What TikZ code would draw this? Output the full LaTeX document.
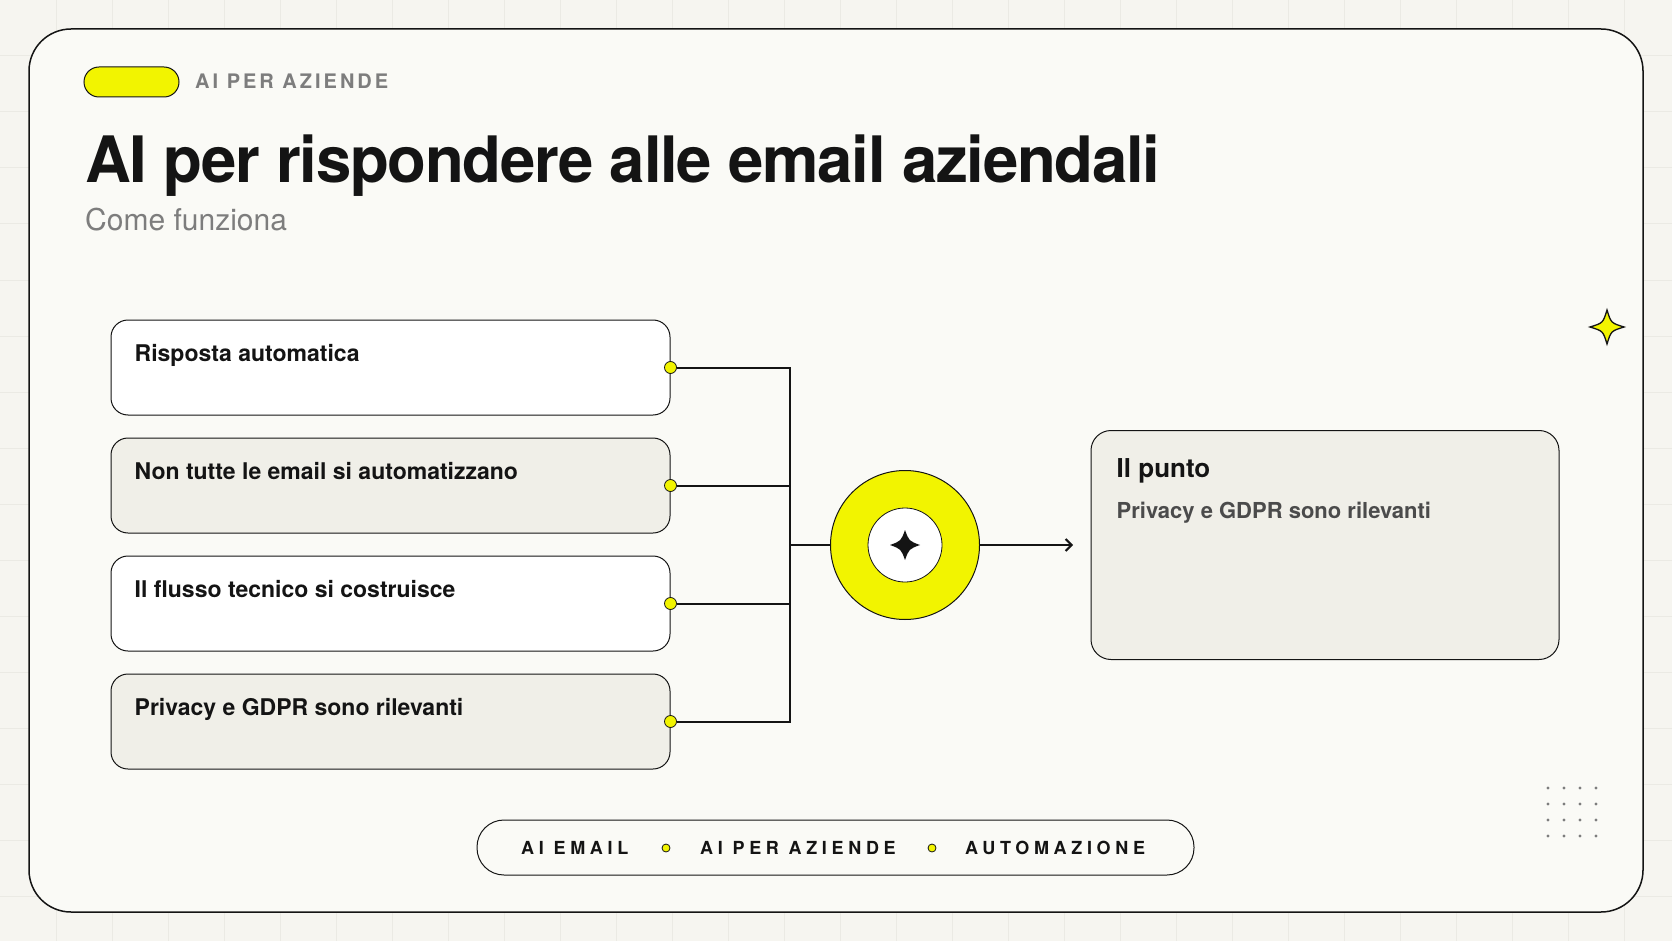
\documentclass[tikz,border=0pt]{standalone}
\usepackage{fontspec}
\usepackage{graphicx}
\setmainfont{TeX Gyre Heros}
\newfontfamily\titolofont{TeX Gyre Heros}[LetterSpace=-2]
\newfontfamily\spaziato{TeX Gyre Heros}[LetterSpace=15]
\newfontfamily\largo{TeX Gyre Heros}[LetterSpace=26]
\usepackage{tikz}
\usetikzlibrary{arrows.meta,calc,positioning}
\definecolor{sfondo}{RGB}{246,245,240}
\definecolor{griglia}{RGB}{235,234,228}
\definecolor{carta}{RGB}{250,250,246}
\definecolor{giallo}{RGB}{242,244,0}
\definecolor{beige}{RGB}{240,239,232}
\definecolor{nero}{RGB}{20,20,20}
\definecolor{grigio}{RGB}{125,125,125}
\definecolor{grigioScuro}{RGB}{75,75,75}
\tikzstyle{scheda}=[draw=nero, line width=1pt, rounded corners=17pt,
                    minimum width=559pt, minimum height=95pt,
                    inner sep=0pt]
\tikzstyle{porta}=[circle, draw=nero, fill=giallo, minimum size=12pt,
                   line width=0.8pt, inner sep=0pt, outer sep=0pt]
\tikzstyle{filo}=[nero, line width=2pt]
\tikzstyle{voce}=[anchor=base west, inner sep=0pt, text=nero,
                  font=\bfseries\fontsize{23}{27}\selectfont]
\tikzstyle{tag}=[anchor=base west, inner sep=0pt, text=nero,
                 font=\largo\bfseries\fontsize{18}{22}\selectfont]

\begin{document}
\begin{tikzpicture}[x=1pt,y=-1pt]
    \fill[sfondo] (0,0) rectangle (1672,941);
    \useasboundingbox (0,0) rectangle (1672,941);
    \foreach \k in {1,...,29}
        \draw[griglia,line width=1pt] ({56*\k},0) -- ({56*\k},941);
    \foreach \k in {1,...,16}
        \draw[griglia,line width=1pt] (0,{56*\k}) -- (1672,{56*\k});

    \draw[nero,fill=carta,line width=1.5pt,rounded corners=42pt]
        (29,29) rectangle (1643,912);

    % intestazione
    \node (pillola) [draw=nero, fill=giallo, line width=1pt, rounded corners=15pt,
          minimum width=95pt, minimum height=30pt] at (131.5,82) {};
    \node (sezione) [anchor=base west, inner sep=0pt, text=grigio,
          font=\spaziato\bfseries\fontsize{20}{24}\selectfont] at (195,89) {AI PER AZIENDE};
    \node (titolo) [anchor=base west, inner sep=0pt, text=nero,
          font=\titolofont\bfseries\fontsize{64}{70}\selectfont] at (85,183)
          {\resizebox{1075pt}{\height}{AI per rispondere alle email aziendali}};
    \node (sottotitolo) [anchor=base west, inner sep=0pt, text=grigio,
          font=\fontsize{30}{34}\selectfont] at (85,231) {Come funziona};

    % schede a sinistra
    \foreach \i/\y/\c/\t in {1/367.5/white/Risposta automatica,
                             2/485.5/beige/Non tutte le email si automatizzano,
                             3/603.5/white/Il flusso tecnico si costruisce,
                             4/721.5/beige/Privacy e GDPR sono rilevanti}{
        \node (s\i) [scheda, fill=\c] at (390.5,\y) {};
        \node (t\i) [voce] at ($(s\i.north west)+(24,42)$) {\t};
        \node (d\i) [porta] at (s\i.east) {};
        \coordinate (b\i) at (790,\y);
    }
    \draw[filo] (d1) -- (b1) -- (b4) -- (d4);
    \foreach \i in {2,3}
        \draw[filo] (d\i) -- (b\i);

    % mozzo centrale
    \node (mozzo) [circle, draw=nero, fill=giallo, line width=1pt,
          minimum size=149pt] at (905,545) {};
    \node (nucleo) [circle, draw=nero, fill=white, line width=0.8pt,
          minimum size=74pt] at (mozzo) {};
    \fill[nero,shift={(mozzo.center)}] (0,-15) .. controls (4,-4) .. (15,0)
        .. controls (4,4) .. (0,15) .. controls (-4,4) .. (-15,0)
        .. controls (-4,-4) .. cycle;
    \coordinate (bh) at (790,545);
    \draw[filo] (bh) -- (mozzo);
    \coordinate (punta) at (1073,545);
    \draw[filo,-{Straight Barb[length=6pt,width=12pt]}] (mozzo) -- (punta);

    % scheda a destra
    \node (punto) [draw=nero, fill=beige, line width=1pt, rounded corners=20pt,
          minimum width=468pt, minimum height=229pt] at (1325,545) {};
    \node (puntoTitolo) [anchor=base west, inner sep=0pt, text=nero,
          font=\bfseries\fontsize{26}{30}\selectfont]
          at ($(punto.north west)+(26,47)$) {Il punto};
    \node (puntoTesto) [anchor=base west, inner sep=0pt, text=grigioScuro,
          font=\bfseries\fontsize{22}{26}\selectfont]
          at ($(punto.north west)+(26,88)$) {Privacy e GDPR sono rilevanti};

    % decorazioni
    \draw[nero,fill=giallo,line width=1.3pt,shift={(1607,327)}] (0,-17)
        .. controls (4,-4) .. (17,0) .. controls (4,4) .. (0,17)
        .. controls (-4,4) .. (-17,0) .. controls (-4,-4) .. cycle;
    \foreach \i in {0,...,3}
        \foreach \j in {0,...,3}
            \fill[grigio] ({1548+16*\i},{788+16*\j}) circle (1.7pt);

    % etichette in basso
    \node (etichette) [draw=nero, fill=carta, line width=1pt, rounded corners=27pt,
          minimum width=717pt, minimum height=55pt] at (835.5,847.5) {};
    \node (tag1) [tag] at (521,854.5) {AI EMAIL};
    \node (tag2) [tag] at (700,854.5) {AI PER AZIENDE};
    \node (tag3) [tag] at (965,854.5) {AUTOMAZIONE};
    \node (sep1) [porta, minimum size=8pt] at (666,848) {};
    \node (sep2) [porta, minimum size=8pt] at (932,848) {};
\end{tikzpicture}
\end{document}
